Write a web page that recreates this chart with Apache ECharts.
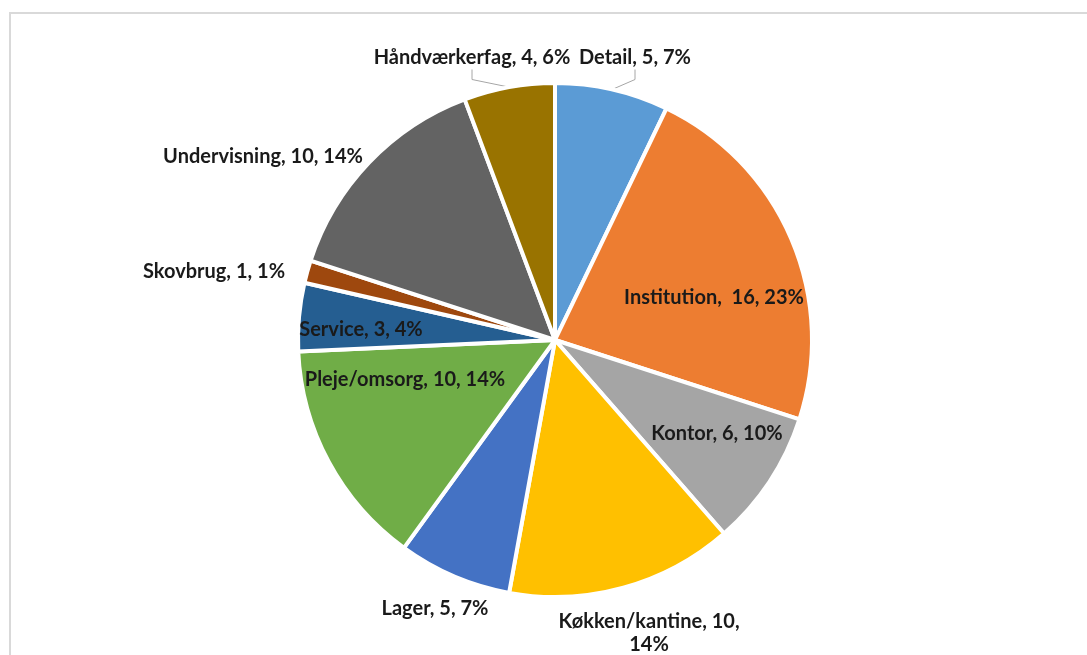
<!DOCTYPE html>
<html>
<head>
<meta charset="utf-8">
<script src="https://cdn.jsdelivr.net/npm/echarts@6/dist/echarts.min.js"></script>
<style>
html,body{margin:0;padding:0;background:#fff;}
#wrap{position:relative;width:1087px;height:655px;overflow:hidden;}
#chart{width:1087px;height:655px;}
#frame{position:absolute;left:9px;top:12px;width:1100px;height:700px;border:2px solid #d9d9d9;box-sizing:border-box;pointer-events:none;}
</style>
</head>
<body>
<div id="wrap"><div id="chart"></div><div id="frame"></div></div>
<script>
const categories = ['Detail','Institution','Kontor','Køkken/kantine','Lager','Pleje/omsorg','Service','Skovbrug','Undervisning','Håndværkerfag'];
const values = [5,16,6,10,5,10,3,1,10,4];
const pctLabels = ['7%','23%','10%','14%','7%','14%','4%','1%','14%','6%'];
const colors = ['#5B9BD5','#ED7D31','#A5A5A5','#FFC000','#4472C4','#70AD47','#255E91','#9E480E','#636363','#997300'];

// label layout (centre of each label, in px)
const labelPos = [[635,58],[714,298],[717,434],[649,633],[435,609],[405,380],[361,330],[214,272],[263,157],[472,58]];
const showLine = [true,false,false,false,false,false,false,false,false,true];

const chart = echarts.init(document.getElementById('chart'));
chart.setOption({
  animation:false,
  series:[{
    type:'pie',
    center:[555,340],
    radius:[0,257],
    startAngle:90,
    clockwise:true,
    avoidLabelOverlap:false,
    itemStyle:{borderColor:'#fff',borderWidth:4},
    label:{
      show:true,
      color:'#1a1a1a',
      fontFamily:'Lato',
      fontWeight:'bold',
      fontSize:20,
      lineHeight:23,
      formatter:function(p){
        const i=p.dataIndex;
        if(i===3) return categories[i]+', '+values[i]+',\n'+pctLabels[i];
        if(i===1) return categories[i]+',  '+values[i]+', '+pctLabels[i];
        return categories[i]+', '+values[i]+', '+pctLabels[i];
      }
    },
    labelLine:{show:true,length:10,length2:10,lineStyle:{color:'#a6a6a6',width:1}},
    labelLayout:function(params){
      const p=labelPos[params.dataIndex];
      return {x:p[0],y:p[1],align:'center',verticalAlign:'middle'};
    },
    data:categories.map((c,i)=>({
      name:c,value:values[i],
      itemStyle:{color:colors[i]},
      labelLine:{show:showLine[i]}
    }))
  }]
});
</script>
</body>
</html>
